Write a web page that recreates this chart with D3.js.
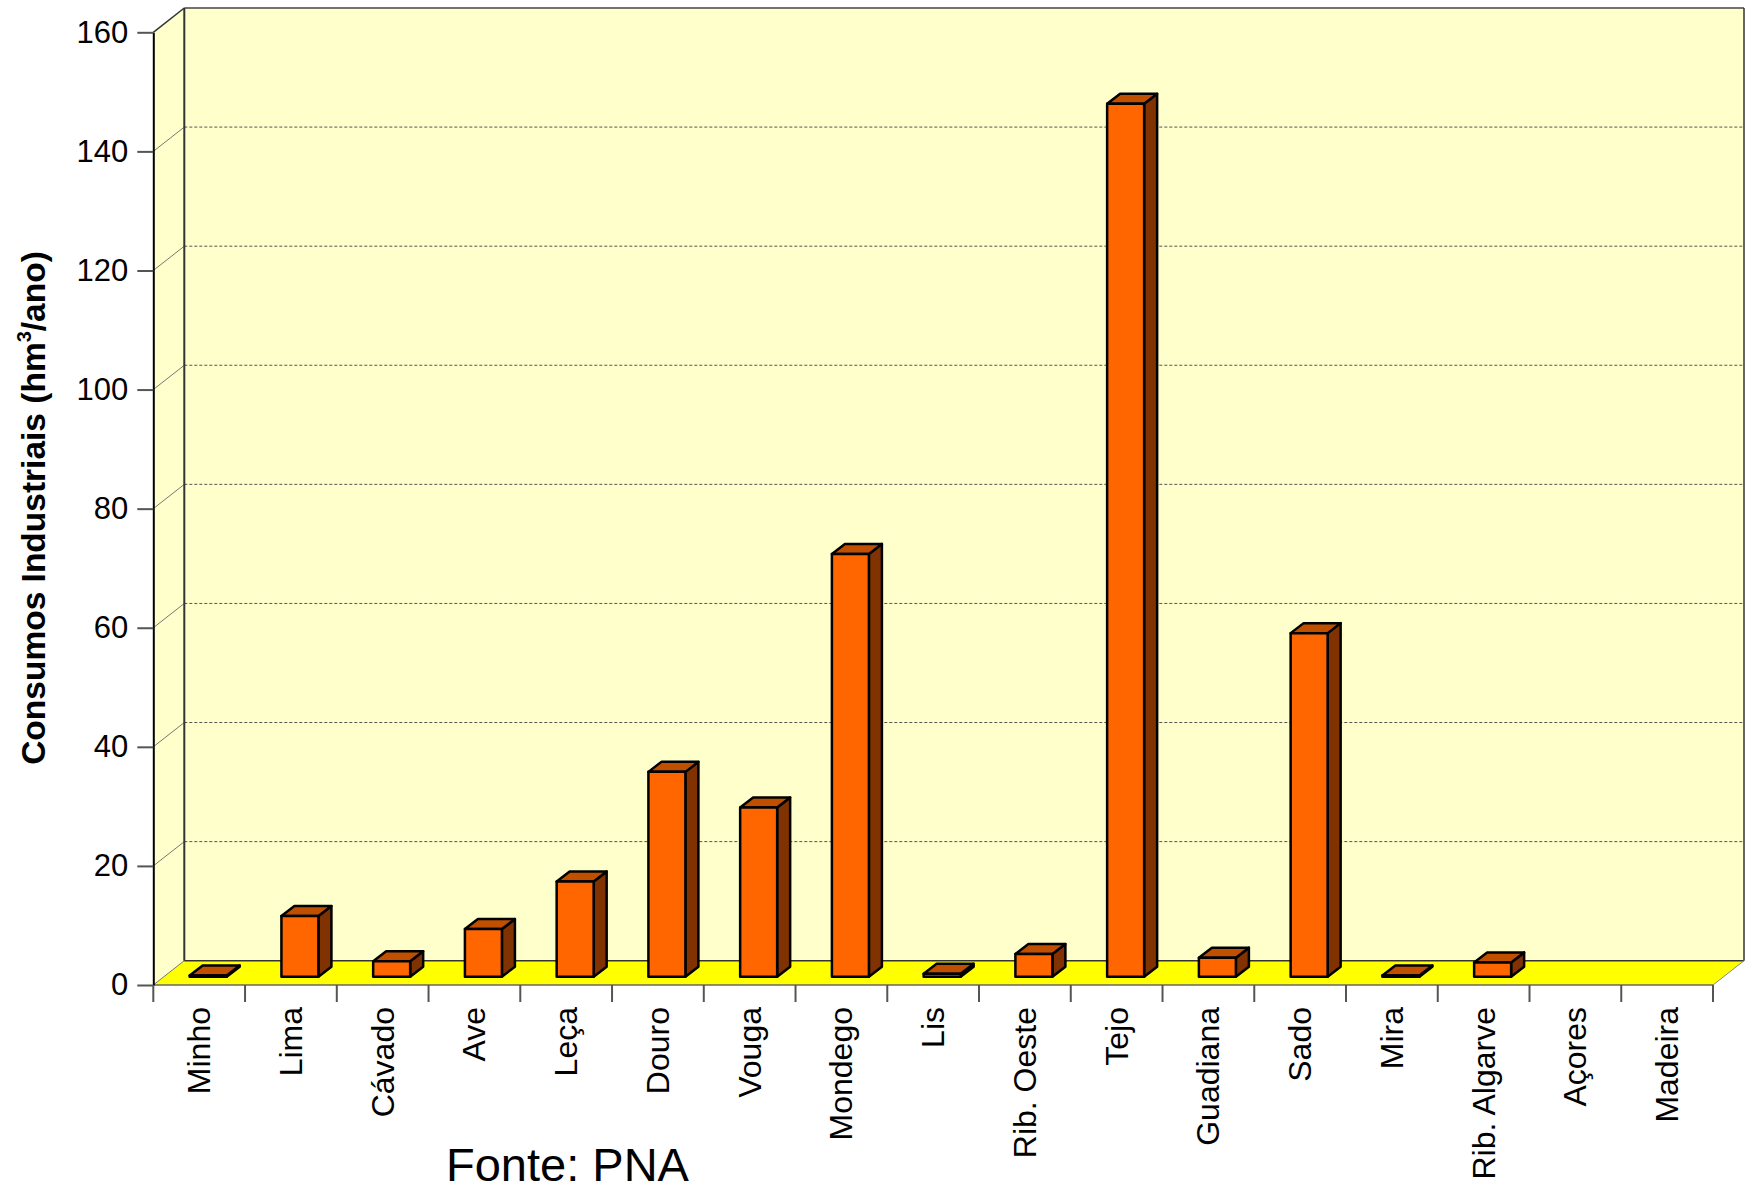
<!DOCTYPE html>
<html>
<head>
<meta charset="utf-8">
<script src="https://cdn.jsdelivr.net/npm/d3@7"></script>
<style>
  html, body { margin: 0; padding: 0; background: #ffffff; }
  svg { display: block; }
  text { font-family: "Liberation Sans", Arial, sans-serif; fill: #000; }
</style>
</head>
<body>
<svg id="chart" width="1746" height="1192"></svg>
<script>
// ---- data ----
const categories = ["Minho", "Lima", "Cávado", "Ave", "Leça", "Douro", "Vouga", "Mondego", "Lis",
  "Rib. Oeste", "Tejo", "Guadiana", "Sado", "Mira", "Rib. Algarve", "Açores", "Madeira"];
const values = [0.2, 10.2, 2.6, 8.0, 16.0, 34.4, 28.4, 71.0, 0.5, 3.8, 146.6, 3.2, 57.7, 0.2, 2.4, null, null];
const yTicks = [0, 20, 40, 60, 80, 100, 120, 140, 160];
const yTitle = "Consumos Industriais (hm";
const yTitleSup = "3";
const yTitleEnd = "/ano)";
const sourceText = "Fonte: PNA";

// ---- layout ----
const svg = d3.select("#chart");
const X0 = 153.3, X1 = 1713;
const DX = 31, DY = -24.3;       // depth of the chart box
const FX = 10.6, FY = -8.3;      // bar front face offset inside depth
const BX = 13, BY = -10;         // bar depth
const BAR_W = 37;

const x = d3.scaleBand().domain(categories).range([X0, X1]).padding(0);
const y = d3.scaleLinear().domain([0, 160]).range([985, 32.3]);

const g = svg.append("g");

// left wall
g.append("path")
  .attr("d", `M${X0},${y(160)} L${X0 + DX},${y(160) + DY} L${X0 + DX},${y(0) + DY} L${X0},${y(0)} Z`)
  .attr("fill", "#FFFFCC");
// back wall
g.append("rect")
  .attr("x", X0 + DX).attr("y", y(160) + DY)
  .attr("width", X1 + DX - (X0 + DX)).attr("height", y(0) - y(160))
  .attr("fill", "#FFFFCC");
// floor
g.append("path")
  .attr("d", `M${X0},${y(0)} L${X0 + DX},${y(0) + DY} L${X1 + DX},${y(0) + DY} L${X1},${y(0)} Z`)
  .attr("fill", "#FFFF00");

// gridlines
const inner = yTicks.filter(t => t > 0 && t < 160);
g.selectAll(".grid").data(inner).enter().append("line")
  .attr("x1", X0 + DX).attr("x2", X1 + DX)
  .attr("y1", d => y(d) + DY).attr("y2", d => y(d) + DY)
  .attr("stroke", "#555").attr("stroke-width", 1).attr("stroke-dasharray", "3,2");
g.selectAll(".diag").data(yTicks.filter(t => t < 160)).enter().append("line")
  .attr("x1", X0).attr("x2", X0 + DX)
  .attr("y1", d => y(d)).attr("y2", d => y(d) + DY)
  .attr("stroke", "#777").attr("stroke-width", 1);

// back wall borders
g.append("line").attr("x1", X0 + DX).attr("x2", X1 + DX).attr("y1", y(160) + DY).attr("y2", y(160) + DY)
  .attr("stroke", "#444").attr("stroke-width", 1.5);
g.append("line").attr("x1", X1 + DX).attr("x2", X1 + DX).attr("y1", y(160) + DY).attr("y2", y(0) + DY)
  .attr("stroke", "#333").attr("stroke-width", 1.5);
g.append("line").attr("x1", X0 + DX).attr("x2", X0 + DX).attr("y1", y(160) + DY).attr("y2", y(0) + DY)
  .attr("stroke", "#333").attr("stroke-width", 2);
g.append("line").attr("x1", X0 + DX).attr("x2", X1 + DX).attr("y1", y(0) + DY).attr("y2", y(0) + DY)
  .attr("stroke", "#333").attr("stroke-width", 1.5);
g.append("line").attr("x1", X0).attr("x2", X0 + DX).attr("y1", y(160)).attr("y2", y(160) + DY)
  .attr("stroke", "#333").attr("stroke-width", 1.5);
// floor front edge and right diagonal
g.append("line").attr("x1", X0).attr("x2", X1).attr("y1", y(0)).attr("y2", y(0))
  .attr("stroke", "#666").attr("stroke-width", 1.5);
g.append("line").attr("x1", X1).attr("x2", X1 + DX).attr("y1", y(0)).attr("y2", y(0) + DY)
  .attr("stroke", "#888").attr("stroke-width", 1);

// bars
const bars = categories.map((c, i) => ({ c, v: values[i] })).filter(d => d.v !== null);
const barG = g.append("g");
bars.forEach(d => {
  const cx = x(d.c) + x.bandwidth() / 2 + FX - 1.6;
  const x0 = cx - BAR_W / 2, x1 = cx + BAR_W / 2;
  const yb = y(0) + FY, yt = y(d.v) + FY;
  const bg = barG.append("g")
    .attr("stroke", "#000").attr("stroke-width", 2.5).attr("stroke-linejoin", "round");
  bg.append("path")
    .attr("d", `M${x1},${yt} L${x1 + BX},${yt + BY} L${x1 + BX},${yb + BY} L${x1},${yb} Z`)
    .attr("fill", "#803300");
  bg.append("path")
    .attr("d", `M${x0},${yt} L${x0 + BX},${yt + BY} L${x1 + BX},${yt + BY} L${x1},${yt} Z`)
    .attr("fill", "#C05000");
  bg.append("rect")
    .attr("x", x0).attr("y", yt).attr("width", BAR_W).attr("height", Math.max(0, yb - yt))
    .attr("fill", "#FF6600");
});

// y axis
const yAxis = d3.axisLeft(y).tickValues(yTicks).tickSize(16).tickSizeOuter(0).tickPadding(9);
const ya = svg.append("g").attr("transform", `translate(${X0},0)`).call(yAxis);
ya.select(".domain").attr("stroke", "#000").attr("stroke-width", 2);
ya.selectAll(".tick line").attr("stroke", "#555").attr("stroke-width", 2);
ya.selectAll(".tick text").attr("font-size", 31).attr("font-family", "Liberation Sans, Arial, sans-serif")
  .attr("fill", "#000");

// x axis ticks at band boundaries
const bounds = categories.map(c => x(c)).concat([X1]);
svg.selectAll(".xt").data(bounds).enter().append("line")
  .attr("x1", d => d).attr("x2", d => d)
  .attr("y1", y(0)).attr("y2", y(0) + 17)
  .attr("stroke", "#555").attr("stroke-width", 2);

// x labels
svg.selectAll(".xl").data(categories).enter().append("text")
  .attr("transform", d => `translate(${x(d) + x.bandwidth() / 2 + 11},1007) rotate(-90)`)
  .attr("text-anchor", "end")
  .attr("font-size", 32)
  .text(d => d);

// y title
const yt = svg.append("text")
  .attr("transform", `translate(45,508) rotate(-90)`)
  .attr("text-anchor", "middle")
  .attr("font-size", 33.5)
  .attr("font-weight", "bold");
yt.append("tspan").text(yTitle);
yt.append("tspan").text(yTitleSup).attr("font-size", 20).attr("dy", -14);
yt.append("tspan").text(yTitleEnd).attr("dy", 14);

// source
svg.append("text")
  .attr("x", 446).attr("y", 1181)
  .attr("font-size", 47)
  .text(sourceText);
</script>
</body>
</html>
